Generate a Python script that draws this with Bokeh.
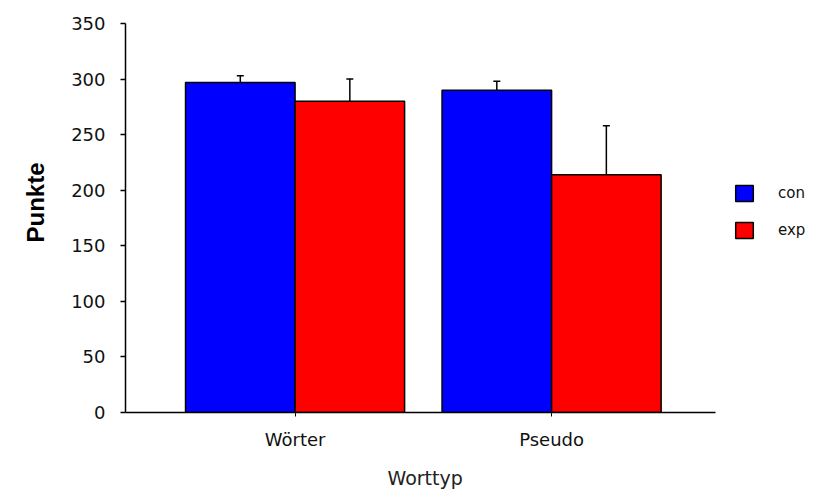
import numpy as np
from bokeh.plotting import figure
from bokeh.models import (ColumnDataSource, Range1d, FixedTicker, Legend, LegendItem,
                          Whisker, TeeHead, Title)
from bokeh.embed import file_html
from bokeh.resources import INLINE

# ---- data ----
categories = ["Wörter", "Pseudo"]
series = ["con", "exp"]
con = [297, 290]
exp = [280, 214]
con_err = [6, 8]
exp_err = [20, 44]
y_ticks = [0, 50, 100, 150, 200, 250, 300, 350]
x_title = "Worttyp"
y_title = "Punkte"

# ---- layout ----
xc = np.arange(1, len(categories) + 1, dtype=float)
bw = 0.427
off = bw / 2
x_lo, x_hi = 0.339, 2.639          # extent of the drawn x axis
x_view_hi = 3.021                  # frame extends under the legend area

src_con = ColumnDataSource(dict(x=xc - off, top=con, up=np.array(con) + np.array(con_err)))
src_exp = ColumnDataSource(dict(x=xc + off, top=exp, up=np.array(exp) + np.array(exp_err)))

p = figure(frame_width=688, frame_height=389, output_backend="svg", toolbar_location=None,
           x_range=Range1d(x_lo, x_view_hi), y_range=Range1d(0, 350),
           min_border_left=125, min_border_right=0, min_border_top=23, min_border_bottom=84)
p.background_fill_color = "white"
p.border_fill_color = "white"
p.outline_line_color = None
p.grid.visible = False

r1 = p.vbar(x="x", top="top", width=bw, source=src_con, fill_color="#0000FF",
            line_color="black", line_width=1.5)
r2 = p.vbar(x="x", top="top", width=bw, source=src_exp, fill_color="#FF0000",
            line_color="black", line_width=1.5)

for s in (src_con, src_exp):
    w = Whisker(base="x", lower="top", upper="up", source=s, dimension="height",
                line_color="black", line_width=1.5, lower_head=None,
                upper_head=TeeHead(size=7, line_color="black", line_width=1.5))
    p.add_layout(w)

# axes
p.yaxis.ticker = FixedTicker(ticks=y_ticks)
p.yaxis.minor_tick_line_color = None
p.yaxis.major_tick_in = 0
p.yaxis.major_tick_out = 5
p.yaxis.major_label_standoff = 15
p.yaxis.axis_line_width = 1.5
p.yaxis.major_tick_line_width = 1.5
p.yaxis.major_label_text_font = "DejaVu Sans"
p.yaxis.major_label_text_font_size = "18px"
p.yaxis.major_label_text_color = "#111111"

p.xaxis.bounds = (x_lo, x_hi)
p.xaxis.ticker = FixedTicker(ticks=list(xc))
p.xaxis.major_label_overrides = {float(x): c for x, c in zip(xc, categories)}
p.xaxis.minor_tick_line_color = None
p.xaxis.major_tick_in = 0
p.xaxis.major_tick_out = 4
p.xaxis.major_label_standoff = 12
p.xaxis.axis_line_width = 1.5
p.xaxis.major_label_text_font = "DejaVu Sans"
p.xaxis.major_label_text_font_size = "18px"
p.xaxis.major_label_text_color = "#111111"

# x title: a below title centred under the drawn axis
p.add_layout(Title(text=x_title, align="left", offset=262, standoff=25,
                   text_font="DejaVu Sans", text_font_size="19px",
                   text_font_style="normal", text_color="#222222"), "below")

# y title: a left title placed as in the reference
p.add_layout(Title(text=y_title, align="left", offset=170, standoff=36,
                   vertical_align="top",
                   text_font="Liberation Sans", text_font_style="bold",
                   text_font_size="24px", text_color="black"), "left")

legend = Legend(items=[LegendItem(label=series[0], renderers=[r1]),
                       LegendItem(label=series[1], renderers=[r2])],
                location=(608, 172), orientation="vertical",
                glyph_width=22, glyph_height=20, label_standoff=23, spacing=17,
                padding=0, margin=0, border_line_color=None,
                label_text_font="DejaVu Sans", label_text_font_size="15px",
                label_text_color="#111111", background_fill_alpha=0)
p.add_layout(legend, "center")

open("out.html", "w").write(file_html(p, INLINE))
